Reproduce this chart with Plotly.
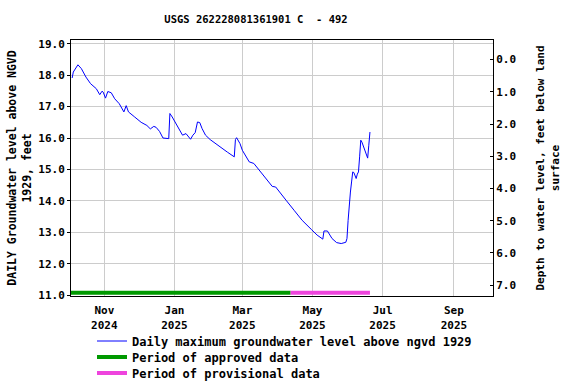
import plotly.graph_objects as go

title_text = "USGS 262228081361901 C  - 492"

dates = [
    "2024-10-04", "2024-10-05", "2024-10-09", "2024-10-12", "2024-10-16", "2024-10-20",
    "2024-10-25", "2024-10-28", "2024-10-30", "2024-10-31", "2024-11-02", "2024-11-04",
    "2024-11-07", "2024-11-10", "2024-11-14", "2024-11-18", "2024-11-20", "2024-11-22",
    "2024-11-27", "2024-11-30", "2024-12-03", "2024-12-08", "2024-12-11", "2024-12-14",
    "2024-12-16", "2024-12-19", "2024-12-22", "2024-12-27", "2024-12-28", "2024-12-30",
    "2025-01-02", "2025-01-05", "2025-01-08", "2025-01-11", "2025-01-15", "2025-01-17",
    "2025-01-19", "2025-01-21", "2025-01-23", "2025-01-25", "2025-01-28", "2025-02-01",
    "2025-02-04", "2025-02-10", "2025-02-16", "2025-02-22", "2025-02-23", "2025-02-24",
    "2025-02-27", "2025-03-01", "2025-03-07", "2025-03-11", "2025-03-17", "2025-03-23",
    "2025-03-27", "2025-03-30", "2025-04-01", "2025-04-03", "2025-04-08", "2025-04-15",
    "2025-04-22", "2025-04-30", "2025-05-05", "2025-05-10", "2025-05-11", "2025-05-14",
    "2025-05-18", "2025-05-22", "2025-05-26", "2025-05-30", "2025-05-31", "2025-06-01",
    "2025-06-02", "2025-06-03", "2025-06-04", "2025-06-05", "2025-06-06", "2025-06-07",
    "2025-06-08", "2025-06-09", "2025-06-10", "2025-06-11", "2025-06-12", "2025-06-13",
    "2025-06-15", "2025-06-17", "2025-06-18", "2025-06-19", "2025-06-20",
]
levels = [
    17.91, 18.10, 18.33, 18.21, 17.94, 17.73,
    17.57, 17.38, 17.49, 17.46, 17.27, 17.48,
    17.44, 17.25, 17.09, 16.83, 17.03, 16.83,
    16.68, 16.60, 16.50, 16.40, 16.29, 16.37,
    16.34, 16.21, 16.00, 15.98, 16.78, 16.67,
    16.46, 16.30, 16.09, 16.14, 15.96, 16.09,
    16.17, 16.51, 16.49, 16.30, 16.09, 15.95,
    15.87, 15.69, 15.55, 15.40, 15.95, 16.01,
    15.82, 15.61, 15.24, 15.19, 14.92, 14.66,
    14.46, 14.44, 14.34, 14.25, 14.02, 13.70,
    13.38, 13.09, 12.91, 12.78, 13.04, 13.04,
    12.80, 12.67, 12.64, 12.68, 12.80, 13.38,
    14.02, 14.28, 14.60, 14.92, 14.90, 14.80,
    14.71, 14.85, 14.92, 15.40, 15.93, 15.87,
    15.66, 15.50, 15.36, 15.77, 16.19,
]

approved_period = ["2024-10-03", "2025-04-12"]
provisional_period = ["2025-04-12", "2025-06-20"]
period_level = 11.07

x_tickvals = ["2024-11-01", "2025-01-01", "2025-03-01", "2025-05-01", "2025-07-01", "2025-09-01"]
x_ticktext = ["Nov<br>2024", "Jan<br>2025", "Mar<br>2025", "May<br>2025", "Jul<br>2025", "Sep<br>2025"]
x_range = ["2024-10-03", "2025-10-05"]
left_range = [10.97, 19.12]
right_range = [7.34, -0.61]
depth_ticks = [0, 1, 2, 3, 4, 5, 6, 7]

FONT = "DejaVu Sans Mono"
LEG_FONT = dict(family=FONT, size=12, weight="bold")

fig = go.Figure()
fig.add_trace(go.Scatter(
    x=dates, y=levels, mode="lines",
    line=dict(color="#0000ff", width=1),
    name="Daily maximum groundwater level above ngvd 1929", legend="legend",
))
fig.add_trace(go.Scatter(
    x=approved_period, y=[period_level, period_level], mode="lines",
    line=dict(color="#009900", width=4),
    name="Period of approved data", legend="legend2",
))
fig.add_trace(go.Scatter(
    x=provisional_period, y=[period_level, period_level], mode="lines",
    line=dict(color="#ee44dd", width=4),
    name="Period of provisional data", legend="legend3",
))
fig.add_trace(go.Scatter(
    x=[x_range[0]], y=[depth_ticks[0]], yaxis="y2", mode="markers",
    marker=dict(opacity=0), showlegend=False, hoverinfo="skip",
))

def leg(ypix):
    return dict(
        x=(92 - 71) / 422, y=-(ypix - 296) / 256, xanchor="left", yanchor="middle",
        font=LEG_FONT, bgcolor="rgba(0,0,0,0)", itemwidth=30,
    )

fig.update_layout(
    width=576, height=384,
    margin=dict(l=71, r=83, t=40, b=88, autoexpand=False),
    paper_bgcolor="white", plot_bgcolor="white",
    font=dict(family=FONT, size=11, color="black", weight="bold"),
    title=dict(text=title_text, x=256 / 576, xanchor="center", y=1 - 19 / 384, yanchor="middle",
               font=dict(family=FONT, size=10.5, color="black", weight="bold")),
    xaxis=dict(
        type="date", range=x_range, tickvals=x_tickvals, ticktext=x_ticktext,
        showgrid=True, gridcolor="#cccccc", gridwidth=1,
        showline=True, linecolor="black", linewidth=1, mirror=True,
        ticks="", tickfont=dict(family=FONT, size=11, weight="bold"),
        ticklabelstandoff=4, zeroline=False, automargin=False,
    ),
    yaxis=dict(
        range=left_range, dtick=1, tick0=11, tickformat=".1f",
        showgrid=True, gridcolor="#cccccc", gridwidth=1,
        showline=True, linecolor="black", linewidth=1,
        ticks="outside", ticklen=3, tickcolor="black",
        tickfont=dict(family=FONT, size=11, weight="bold"),
        title=dict(text="DAILY Groundwater level above NGVD<br>1929, feet",
                   font=dict(family=FONT, size=11.5, weight="bold"), standoff=4),
        zeroline=False, automargin=False,
    ),
    yaxis2=dict(
        overlaying="y", side="right", range=right_range,
        tickvals=depth_ticks, tickformat=".1f",
        showgrid=False, showline=True, linecolor="black", linewidth=1,
        ticks="inside", ticklen=3, tickcolor="black",
        tickfont=dict(family=FONT, size=11, weight="bold"),
        title=dict(text="Depth to water level, feet below land<br>surface",
                   font=dict(family=FONT, size=11, weight="bold"), standoff=21),
        zeroline=False, automargin=False,
    ),
    legend=leg(341),
    legend2=leg(357),
    legend3=leg(373),
    showlegend=True,
)

fig.write_html("out.html",
               config={"displayModeBar": False},
               post_script="document.body.style.margin='0';document.body.style.padding='0';")
